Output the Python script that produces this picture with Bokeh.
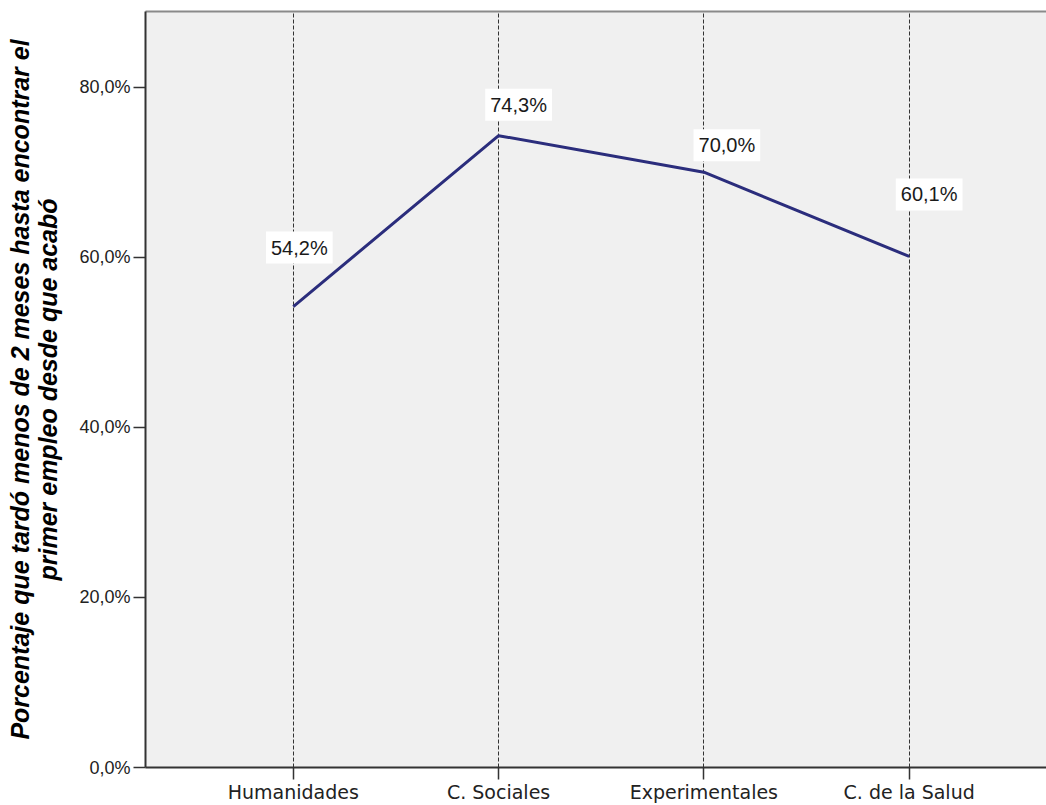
from bokeh.plotting import figure
from bokeh.models import ColumnDataSource, Range1d, FixedTicker, LinearAxis
from bokeh.core.properties import value
from bokeh.embed import file_html
from bokeh.resources import INLINE

# ---- data ----
categories = ["Humanidades", "C. Sociales", "Experimentales", "C. de la Salud"]
values = [54.2, 74.3, 70.0, 60.1]
y_ticks = [0, 20, 40, 60, 80]
y_tick_labels = ["0,0%", "20,0%", "40,0%", "60,0%", "80,0%"]
y_title = "Porcentaje que tardó menos de 2 meses hasta encontrar el\nprimer empleo desde que acabó"

# ---- label placement (style) ----
label_dx = [6, 20, 23, 20]
label_dy = [-59, -31, -27, -62]

xs = list(range(len(categories)))
value_labels = [f"{v:.1f}%".replace(".", ",") for v in values]

src = ColumnDataSource(dict(x=xs, y=values, lab=value_labels, dx=label_dx, dy=label_dy))

p = figure(width=1046, height=805, output_backend="svg", toolbar_location=None,
           x_range=Range1d(-0.72, 3.669), y_range=Range1d(0, 88.9),
           min_border_left=145, min_border_right=0, min_border_top=11, min_border_bottom=36)

p.background_fill_color = "#f0f0f0"
p.border_fill_color = "white"
p.outline_line_color = None

# x axis (below)
xa = p.below[0]
xa.ticker = FixedTicker(ticks=xs)
xa.major_label_overrides = {i: c for i, c in zip(xs, categories)}
xa.major_label_text_font = "DejaVu Sans"
xa.major_label_text_font_size = "19px"
xa.major_label_text_color = "#222222"
xa.major_label_standoff = 1
xa.axis_line_color = "#333333"
xa.axis_line_width = 2
xa.major_tick_line_color = "#333333"
xa.major_tick_line_width = 1.5
xa.major_tick_out = 12
xa.major_tick_in = 0
xa.minor_tick_line_color = None

# top border as an axis without ticks or labels
top_axis = LinearAxis(ticker=FixedTicker(ticks=[]), axis_line_color="#8a8a8a", axis_line_width=2,
                      major_tick_line_color=None, minor_tick_line_color=None,
                      major_tick_out=0, major_tick_in=0, major_label_standoff=0,
                      major_label_text_font_size="0px")
p.add_layout(top_axis, "above")

# y axis
ya = p.left[0]
ya.ticker = FixedTicker(ticks=y_ticks)
ya.major_label_overrides = {t: l for t, l in zip(y_ticks, y_tick_labels)}
ya.major_label_text_font = "Liberation Sans"
ya.major_label_text_font_size = "18px"
ya.major_label_text_color = "#222222"
ya.major_label_standoff = 3
ya.axis_line_color = "#333333"
ya.axis_line_width = 2
ya.major_tick_line_color = "#333333"
ya.major_tick_line_width = 1.5
ya.major_tick_out = 12
ya.major_tick_in = 0
ya.minor_tick_line_color = None
ya.axis_label = y_title
ya.axis_label_text_font = "Liberation Sans"
ya.axis_label_text_font_style = "bold italic"
ya.axis_label_text_font_size = "25px"
ya.axis_label_text_line_height = 1.0
ya.axis_label_text_color = "#000000"
ya.axis_label_standoff = 14

# grids
p.ygrid.grid_line_color = None
p.xgrid.ticker = FixedTicker(ticks=xs)
p.xgrid.grid_line_color = "#333333"
p.xgrid.grid_line_width = 1
p.xgrid.grid_line_dash = "4 2"

# line
p.line("x", "y", source=src, line_color="#2b2d7c", line_width=3)

# value labels
p.text("x", "y", text="lab", source=src, x_offset="dx", y_offset="dy",
       text_align="center", text_baseline="middle",
       text_font=value("Liberation Sans"), text_font_size="20px", text_color="#1a1a1a",
       background_fill_color="white", padding=5)

open("out.html", "w").write(file_html(p, INLINE))
